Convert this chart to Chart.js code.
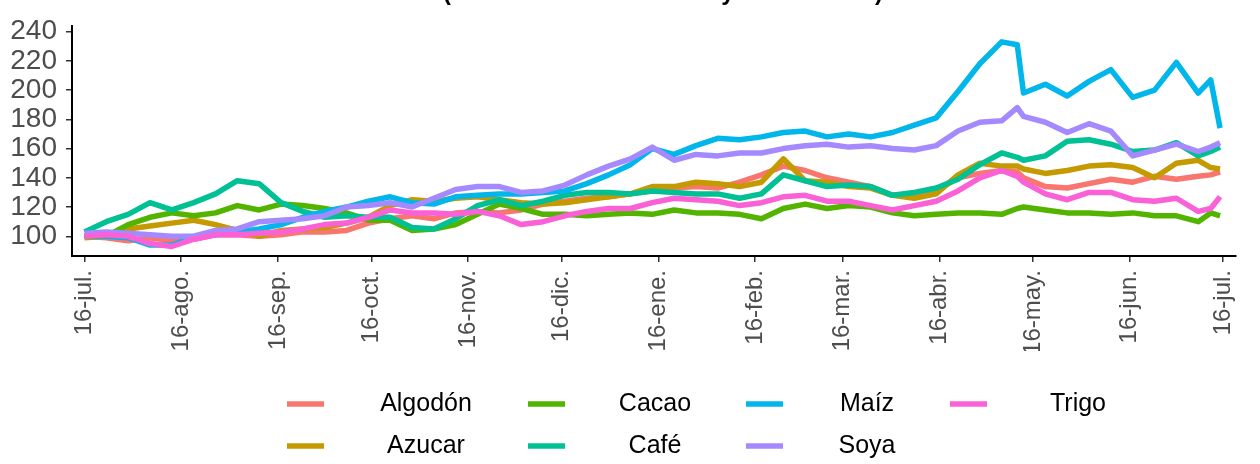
<!DOCTYPE html>
<html>
<head>
<meta charset="utf-8">
<script src="https://cdn.jsdelivr.net/npm/chart.js@4/dist/chart.umd.min.js"></script>
<style>
  body { margin: 0; background: #fff; }
  canvas { display: block; }
</style>
</head>
<body>
<canvas id="precios" width="1260" height="464"></canvas>
<script>
// dias desde el 16-jul.
var days = [0,7,14,21,28,35,42,49,56,63,70,77,84,91,98,105,112,119,126,133,140,147,154,161,168,175,182,189,196,203,210,217,224,231,238,245,252,259,266,273,280,287,294,299,301,308,315,322,329,336,343,350,357,361,364];

var algodon = [100,99,97,99,97,98,101,101,100,101,103,103,104,109,112,114,112,116,117,116,118,122,124,126,127,129,131,133,134,133,137,142,148,145,140,137,134,128,129,131,140,143,145,144,140,134,133,136,139,137,141,139,141,142,144];
var azucar = [99,100,105,107,109,111,108,104,100,104,105,106,109,113,121,125,124,126,127,125,123,122,123,125,127,129,134,134,137,136,134,137,153,138,137,134,133,128,126,129,142,150,148,148,146,143,145,148,149,147,140,150,152,147,146];
var cacao = [100,100,108,113,116,114,116,121,118,122,121,119,116,111,111,104,105,108,115,122,119,115,115,114,115,116,115,118,116,116,115,112,119,122,119,121,120,116,114,115,116,116,115,119,120,118,116,116,115,116,114,114,110,116,114];
var cafe = [103,110,115,123,118,123,129,138,136,123,117,113,114,113,113,106,105,112,121,125,121,124,128,130,130,129,131,130,129,129,126,129,142,138,134,135,134,128,130,133,139,149,157,154,152,155,165,166,163,158,159,164,155,158,161];
var maiz = [100,100,99,94,94,99,101,103,105,108,113,117,120,124,127,123,122,127,128,129,129,130,131,136,142,149,160,156,162,167,166,168,171,172,168,170,168,171,176,181,199,218,233,231,198,204,196,206,214,195,200,219,198,207,174];
var soya = [102,103,102,101,100,100,104,105,110,111,112,114,120,121,123,120,126,132,134,134,130,131,135,142,148,153,161,152,156,155,157,157,160,162,163,161,162,160,159,162,172,178,179,188,182,178,171,177,172,155,159,163,158,161,164];
var trigo = [100,101,100,95,93,98,101,101,102,103,105,108,109,113,118,116,116,115,117,114,108,110,114,117,119,119,123,126,125,124,121,123,127,128,124,124,121,118,121,124,131,140,145,141,137,129,125,130,130,125,124,126,117,119,127];

var seriesNames = ['Algodón', 'Azucar', 'Cacao', 'Café', 'Maíz', 'Soya', 'Trigo'];
var seriesValues = [algodon, azucar, cacao, cafe, maiz, soya, trigo];
var seriesColors = ['#F8766D', '#C49A00', '#53B400', '#00C094', '#00B6EB', '#A58AFF', '#FB61D7'];

var tickDays = [0, 31, 62, 92, 123, 153, 184, 215, 243, 274, 304, 335, 365];
var tickLabels = ['16-jul.', '16-ago.', '16-sep.', '16-oct.', '16-nov.', '16-dic.', '16-ene.', '16-feb.', '16-mar.', '16-abr.', '16-may.', '16-jun.', '16-jul.'];
var yTicks = [100, 120, 140, 160, 180, 200, 220, 240];

var titleText = '(Base 100 = 16-Jul. 2020 y 16-Jul. 2021)';

var datasets = seriesNames.map(function (name, i) {
    return {
        label: name,
        data: days.map(function (d, j) { return { x: d, y: seriesValues[i][j] }; }),
        borderColor: seriesColors[i],
        backgroundColor: seriesColors[i],
        borderWidth: 5.5,
        borderJoinStyle: 'round',
        pointRadius: 0,
        tension: 0,
        fill: false,
        order: seriesNames.length - i
    };
});

var whiteBg = {
    id: 'whiteBg',
    beforeDraw: function (chart) {
        var c = chart.ctx;
        c.save();
        c.fillStyle = '#fff';
        c.fillRect(0, 0, chart.width, chart.height);
        c.restore();
    }
};

// titulo cortado arriba y leyenda en dos filas, estilo ggplot
var extras = {
    id: 'extras',
    afterDraw: function (chart) {
        var c = chart.ctx;
        c.save();
        c.fillStyle = '#000';
        c.font = 'bold 22px "Liberation Sans", Arial, sans-serif';
        var w = c.measureText(titleText).width;
        var size = 22 * 440 / w;
        c.font = 'bold ' + size + 'px "Liberation Sans", Arial, sans-serif';
        c.textAlign = 'left';
        c.textBaseline = 'alphabetic';
        c.fillText(titleText, 443, 0);

        var keyX = [287, 528, 746, 950];
        var textX = [426, 655, 867, 1078];
        var rowY = [404, 446];
        c.font = '25px "Liberation Sans", Arial, sans-serif';
        c.textAlign = 'center';
        c.textBaseline = 'middle';
        chart.data.datasets.forEach(function (ds, i) {
            var col = Math.floor(i / 2), row = i % 2;
            var y = rowY[row];
            c.strokeStyle = ds.borderColor;
            c.lineWidth = 5.5;
            c.beginPath();
            c.moveTo(keyX[col], y);
            c.lineTo(keyX[col] + 37, y);
            c.stroke();
            c.fillStyle = '#000';
            c.fillText(ds.label, textX[col], y);
        });
        c.restore();
    }
};

var ctx = document.getElementById('precios').getContext('2d');
var myChart = new Chart(ctx, {
    type: 'line',
    data: { datasets: datasets },
    options: {
        responsive: false,
        animation: false,
        layout: { padding: { top: 10, right: 2, left: 0, bottom: 113 } },
        plugins: {
            legend: { display: false },
            tooltip: { enabled: false },
            title: { display: false }
        },
        scales: {
            x: {
                type: 'linear',
                min: -4,
                max: 369,
                afterBuildTicks: function (scale) {
                    scale.ticks = tickDays.map(function (v) { return { value: v }; });
                },
                afterFit: function (scale) { scale.height = 95; },
                ticks: {
                    autoSkip: false,
                    maxRotation: 90,
                    minRotation: 90,
                    padding: 8,
                    color: '#4D4D4D',
                    font: { size: 24, family: '"Liberation Sans", Arial, sans-serif' },
                    callback: function (value, index) { return tickLabels[index]; }
                },
                grid: { display: true, drawOnChartArea: false, drawTicks: true, tickLength: 6, color: '#333', lineWidth: 1.5 },
                border: { display: true, color: '#000', width: 2 }
            },
            y: {
                min: 86.5,
                max: 244,
                afterBuildTicks: function (scale) {
                    scale.ticks = yTicks.map(function (v) { return { value: v }; });
                },
                afterFit: function (scale) { scale.width = 72; },
                ticks: {
                    autoSkip: false,
                    padding: 9,
                    color: '#4D4D4D',
                    font: { size: 28, family: '"Liberation Sans", Arial, sans-serif' }
                },
                grid: { display: true, drawOnChartArea: false, drawTicks: true, tickLength: 6, color: '#333', lineWidth: 1.5 },
                border: { display: true, color: '#000', width: 2 }
            }
        }
    },
    plugins: [whiteBg, extras]
});
</script>
</body>
</html>
